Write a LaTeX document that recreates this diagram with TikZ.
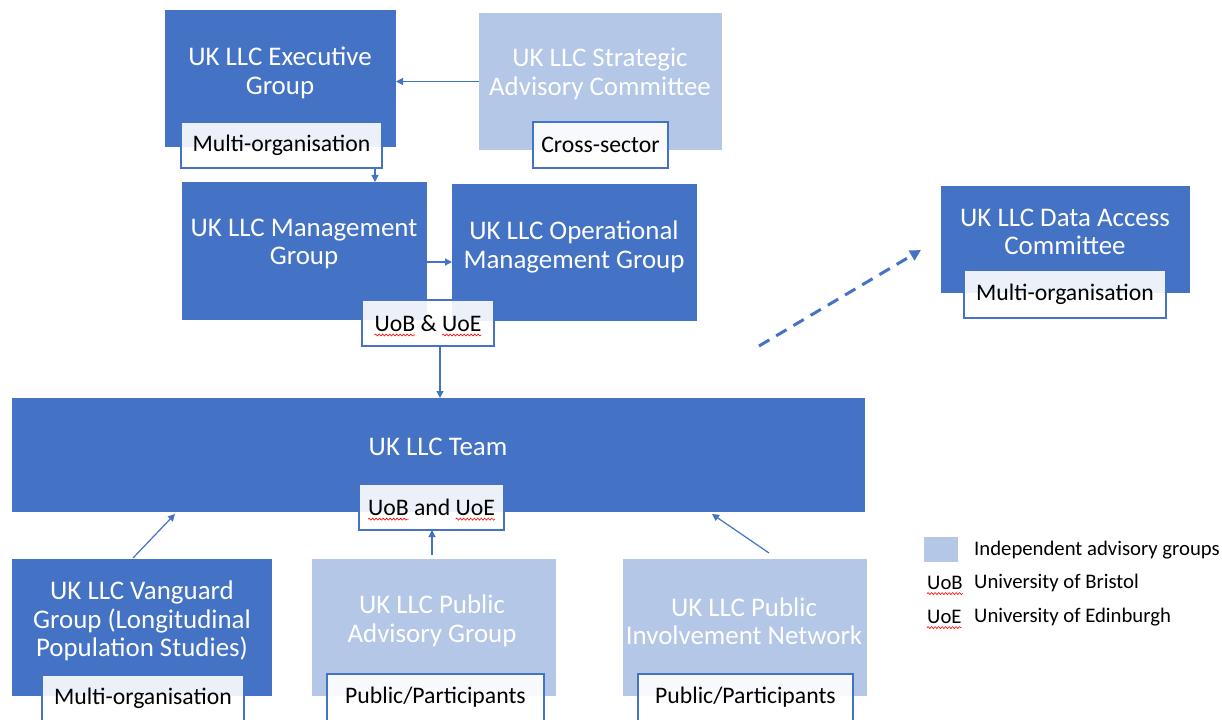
\documentclass[tikz,border=0pt]{standalone}
\usepackage{fontspec}
\setmainfont{Carlito}
\usetikzlibrary{arrows.meta,calc,decorations.pathmorphing}
\definecolor{dk}{HTML}{4472C4}
\definecolor{lt}{HTML}{B4C7E7}
\begin{document}
\begin{tikzpicture}[x=1bp,y=-1bp,
  dkbox/.style={fill=dk,draw=none,inner sep=0,outer sep=0},
  ltbox/.style={fill=lt,draw=none,inner sep=0,outer sep=0},
  ttl/.style={text=white,align=center,inner sep=0,font=\fontsize{27}{28.5}\selectfont},
  lab/.style={fill=white,fill opacity=0.9,text opacity=1,draw=dk,line width=1.1bp,inner sep=0,outer sep=0,text=black,font=\fontsize{23.8}{27}\selectfont},
  labtxt/.style={inner sep=0,outer sep=0,text=black,font=\fontsize{23.8}{27}\selectfont},
  arr/.style={draw=dk,line width=1.2bp,-{Triangle[length=7bp,width=7bp]}},
  darr/.style={draw=dk,line width=3bp,dash pattern=on 12bp off 8bp,-{Triangle[length=11bp,width=11bp]}},
  leg/.style={anchor=west,inner sep=0,text=black,font=\fontsize{20.8}{24}\selectfont},
  wave/.style={draw=red,line width=0.6bp,decorate,decoration={snake,segment length=3.5bp,amplitude=1bp}}]
\fill[white] (0,0) rectangle (1222,720);
\useasboundingbox (0,0) rectangle (1222,720);
% boxes
\node[dkbox,minimum width=231bp,minimum height=137bp] (exec) at (280.5,78.5) {};
\node[ltbox,minimum width=243bp,minimum height=137bp] (strat) at (600.5,81.5) {};
\node[dkbox,minimum width=245bp,minimum height=138bp] (mgmt) at (304.5,251) {};
\node[dkbox,minimum width=245bp,minimum height=137bp] (op) at (574.5,252.5) {};
\node[dkbox,minimum width=249bp,minimum height=107bp] (da) at (1065.5,239.5) {};
\node[dkbox,minimum width=853bp,minimum height=114bp] (team) at (438.5,455) {};
\node[dkbox,minimum width=260bp,minimum height=137bp] (van) at (142,627.5) {};
\node[ltbox,minimum width=244bp,minimum height=137bp] (pa) at (434,627.5) {};
\node[ltbox,minimum width=244bp,minimum height=137bp] (inv) at (745,627.5) {};
% labels
\node[lab,minimum width=201bp,minimum height=46bp] (exlab) at (281.5,145) {Multi-organisation};
\node[lab,minimum width=135bp,minimum height=46bp] (stlab) at (600.5,145) {Cross-sector};
\node[lab,minimum width=132bp,minimum height=46bp] (mglab) at (428,323) {};
\node[labtxt] (mgt) at (mglab) {UoB \& UoE};
\node[lab,minimum width=202bp,minimum height=48bp] (dalab) at (1065,294) {Multi-organisation};
\node[lab,minimum width=145bp,minimum height=46bp] (tmlab) at (431.5,507) {};
\node[labtxt] (tmt) at (tmlab) {UoB and UoE};
\node[lab,minimum width=202bp,minimum height=47bp] (vanlab) at (143,698.5) {Multi-organisation};
\node[lab,minimum width=217bp,minimum height=47bp] (palab) at (435.5,697.5) {Public/Participants};
\node[lab,minimum width=215bp,minimum height=47bp] (invlab) at (745.5,697.5) {Public/Participants};
% spell-check marks
\node[labtxt,anchor=base west] (w1) at (mgt.base west) {\phantom{UoB}};
\node[labtxt,anchor=base east] (w2) at (mgt.base east) {\phantom{UoE}};
\node[labtxt,anchor=base west] (w3) at (tmt.base west) {\phantom{UoB}};
\node[labtxt,anchor=base east] (w4) at (tmt.base east) {\phantom{UoE}};
\foreach \w in {w1,w2,w3,w4}{
  \draw[wave] ($(\w.base west)+(0,4)$) -- ($(\w.base east)+(0,4)$);}
% titles
\node[ttl] (t1) at (280,73) {UK LLC Executive\\Group};
\node[ttl] (t2) at (600,74) {UK LLC Strategic\\Advisory Committee};
\node[ttl] (t3) at (304,244) {UK LLC Management\\Group};
\node[ttl] (t4) at (574,247) {UK LLC Operational\\Management Group};
\node[ttl] (t5) at (1065,232) {UK LLC Data Access\\Committee};
\node[ttl] (t6) at (438,447) {UK LLC Team};
\node[ttl] (t7) at (142,621) {UK LLC Vanguard\\Group (Longitudinal\\Population Studies)};
\node[ttl] (t8) at (432,621) {UK LLC Public\\Advisory Group};
\node[ttl] (t9) at (744,621) {UK LLC Public\\Involvement Network};
% connector end points
\coordinate (a1) at ($(exlab.south east)+(-7,0)$);
\coordinate (a2) at ($(mgmt.east)+(0,11)$);
\coordinate (a3) at ($(mglab.south)+(12,0)$);
\coordinate (a4) at ($(pa.north)+(-2,-4)$);
\coordinate (d0) at (759,346);
% arrows
\draw[arr] (strat.west) -- (strat.west -| exec.east);
\draw[arr] (a1) -- (a1 |- mgmt.north);
\draw[arr] (a2) -- (a2 -| op.west);
\draw[arr] (a3) -- (a3 |- team.north);
\draw[arr] ($(van.north)+(-9,-1)$) -- ($(team.south)+(-263.5,2)$);
\draw[arr] (a4) -- (a4 |- tmlab.south);
\draw[arr] ($(inv.north)+(24,-6)$) -- ($(team.south)+(273.5,2)$);
\draw[darr] (d0) -- ($(da.west)+(-20,10.5)$);
% legend
\node[ltbox,minimum width=34bp,minimum height=25bp] (lgsq) at (941,549.5) {};
\node[leg] (lg1) at (974,550) {Independent advisory groups};
\node[leg] (lgb) at (927,583) {UoB};
\node[leg] (lg2) at (974,583) {University of Bristol};
\node[leg] (lge) at (927,617) {UoE};
\node[leg] (lg3) at (974,617) {University of Edinburgh};
\draw[wave] ($(lgb.base west)+(0,4)$) -- ($(lgb.base east)+(0,4)$);
\draw[wave] ($(lge.base west)+(0,4)$) -- ($(lge.base east)+(0,4)$);
\end{tikzpicture}
\end{document}
